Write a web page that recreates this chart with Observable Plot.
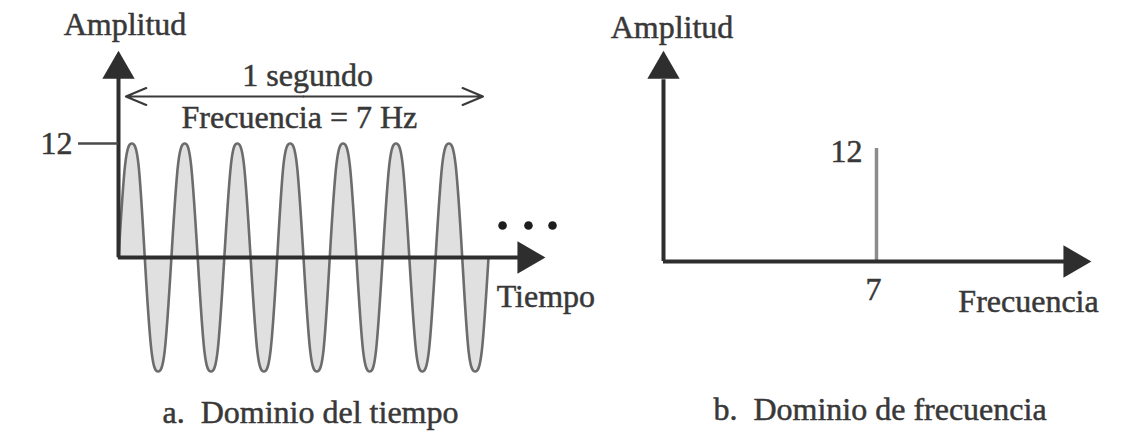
<!DOCTYPE html>
<html>
<head>
<meta charset="utf-8">
<script src="https://cdn.jsdelivr.net/npm/d3@7"></script>
<script src="https://cdn.jsdelivr.net/npm/@observablehq/plot@0.6"></script>
<style>
  html, body { margin: 0; padding: 0; background: #fff; }
  #wrap { position: relative; width: 1134px; height: 447px; overflow: hidden; background: #fff; }
  #left { position: absolute; left: 0; top: 0; width: 567px; height: 447px; }
  #right { position: absolute; left: 567px; top: 0; width: 567px; height: 447px; }
  svg { overflow: visible; }
</style>
</head>
<body>
<div id="wrap"><div id="left"></div><div id="right"></div></div>
<script>
// ---- Data ----
// Time-domain signal: points read along the 7 Hz wave over 1 second (s, amplitude)
const waveTime = [0, 0.018, 0.036, 0.054, 0.071, 0.089, 0.107, 0.125, 0.143, 0.161,
                  0.179, 0.196, 0.214, 0.232, 0.25, 0.268, 0.286, 0.304, 0.321, 0.339,
                  0.357, 0.375, 0.393, 0.411, 0.429, 0.446, 0.464, 0.482, 0.5, 0.518,
                  0.536, 0.554, 0.571, 0.589, 0.607, 0.625, 0.643, 0.661, 0.679, 0.696,
                  0.714, 0.732, 0.75, 0.768, 0.786, 0.804, 0.821, 0.839, 0.857, 0.875,
                  0.893, 0.911, 0.929, 0.946, 0.964, 0.982, 1];
const waveAmp  = [0, 9.8, 12, 9.8, 0, -9.8, -12, -9.8, 0, 9.8,
                  12, 9.8, 0, -9.8, -12, -9.8, 0, 9.8, 12, 9.8,
                  0, -9.8, -12, -9.8, 0, 9.8, 12, 9.8, 0, -9.8,
                  -12, -9.8, 0, 9.8, 12, 9.8, 0, -9.8, -12, -9.8,
                  0, 9.8, 12, 9.8, 0, -9.8, -12, -9.8, 0, 9.8,
                  12, 9.8, 0, -9.8, -12, -9.8, 0];
// Amplitude tick on the time-domain axis
const ampTickValue = [12];
const ampTickLabel = ["12"];
// Frequency-domain spectrum
const specFreq = [7];
const specAmp = [12];
const specFreqLabel = ["7"];
const specAmpLabel = ["12"];
// Texts
const yTitle = "Amplitud";
const timeTitle = "Tiempo";
const freqTitle = "Frecuencia";
const spanLabel = "1 segundo";
const freqNote = "Frecuencia = 7 Hz";
const captionA = "a.  Dominio del tiempo";
const captionB = "b.  Dominio de frecuencia";

// ---- Build tables ----
const wave = waveTime.map((t, i) => ({t, a: waveAmp[i]}));
const ampTicks = ampTickValue.map((a, i) => ({a, label: ampTickLabel[i]}));
const spectrum = specFreq.map((f, i) => ({f, a: specAmp[i], fl: specFreqLabel[i], al: specAmpLabel[i]}));

const FONT = "Liberation Serif, Times New Roman, serif";
const INK = "#2e2e2e";
const TXT = "#383838";
const FS = 32;
const T = {fontSize: FS, fill: TXT, stroke: TXT, strokeWidth: 0.5};

// ---- Left: time domain ----
const left = Plot.plot({
  width: 567, height: 447,
  marginLeft: 118, marginRight: 79, marginTop: 143, marginBottom: 76,
  x: {domain: [0, 1], axis: null},
  y: {domain: [-12, 12], axis: null},
  style: {fontFamily: FONT, background: "transparent", overflow: "visible"},
  marks: [
    Plot.areaY(wave, {x: "t", y: "a", curve: "natural", fill: "#e0e0e0"}),
    Plot.line(wave, {x: "t", y: "a", curve: "natural", stroke: "#6c6c6c", strokeWidth: 2.6}),
    // axes
    Plot.ruleX([0], {y1: 0, y2: 19.6, stroke: INK, strokeWidth: 4}),
    Plot.ruleY([0], {x1: 0, x2: 1.09, stroke: INK, strokeWidth: 4}),
    Plot.dot([{t: 0, a: 19.8, rot: 0}, {t: 1.1035, a: 0, rot: 90}],
      {x: "t", y: "a", rotate: "rot", symbol: "triangle", r: 12, fill: INK, stroke: "none"}),
    // amplitude tick "12"
    Plot.ruleY(ampTicks, {y: "a", x1: -0.108, x2: 0, stroke: "#4a4a4a", strokeWidth: 2.5}),
    Plot.text(ampTicks, {x: 0, y: "a", text: "label", dx: -46, textAnchor: "end", ...T}),
    // 1-second span double arrow
    Plot.arrow([{x1: 0.5, x2: 0.02}, {x1: 0.5, x2: 0.985}],
      {x1: "x1", x2: "x2", y1: 16.95, y2: 16.95, stroke: "#3a3a3a", strokeWidth: 2.2, headLength: 15, headAngle: 45}),
    Plot.text([spanLabel], {x: 0.511, y: 18.1, text: d => d, lineAnchor: "bottom", ...T}),
    Plot.text([freqNote], {x: 0.489, y: 13.68, text: d => d, lineAnchor: "bottom", ...T}),
    // titles
    Plot.text([yTitle], {x: 0.0176, y: 23.37, text: d => d, lineAnchor: "bottom", ...T}),
    Plot.text([timeTitle], {x: 1.022, y: -5.26, text: d => d, textAnchor: "start", lineAnchor: "bottom", ...T}),
    // continuation dots
    Plot.dot([1.038, 1.108, 1.173], {x: d => d, y: 3.37, r: 4.3, fill: "#1e1e1e", stroke: "none"}),
    // caption
    Plot.text([captionA], {x: 0.119, y: -17.47, text: d => d, textAnchor: "start", lineAnchor: "bottom", ...T})
  ]
});
document.getElementById("left").append(left);

// ---- Right: frequency domain ----
const right = Plot.plot({
  width: 567, height: 447,
  marginLeft: 96, marginRight: 45, marginTop: 148, marginBottom: 186,
  x: {domain: [0, 14], axis: null},
  y: {domain: [0, 12], axis: null},
  style: {fontFamily: FONT, background: "transparent", overflow: "visible"},
  marks: [
    Plot.ruleX(spectrum, {x: "f", y1: 0, y2: "a", stroke: "#8c8c8c", strokeWidth: 3.5}),
    Plot.ruleX([0], {y1: 0, y2: 19.3, stroke: INK, strokeWidth: 4}),
    Plot.ruleY([0], {x1: 0, x2: 13.2, stroke: INK, strokeWidth: 4}),
    Plot.dot([{f: 0, a: 20.4, rot: 0}, {f: 13.45, a: 0, rot: 90}],
      {x: "f", y: "a", rotate: "rot", symbol: "triangle", r: 12, fill: INK, stroke: "none"}),
    Plot.text(spectrum, {x: "f", y: "a", text: "al", dx: -14, dy: 3, textAnchor: "end", ...T}),
    Plot.text(spectrum, {x: "f", y: 0, text: "fl", dx: -3, dy: 16, lineAnchor: "top", ...T}),
    Plot.text([yTitle], {x: 0.28, y: 23.78, text: d => d, lineAnchor: "bottom", ...T}),
    Plot.text([freqTitle], {x: 9.69, y: -5.41, text: d => d, textAnchor: "start", lineAnchor: "bottom", ...T}),
    Plot.text([captionB], {x: 1.64, y: -16.88, text: d => d, textAnchor: "start", lineAnchor: "bottom", ...T})
  ]
});
document.getElementById("right").append(right);
</script>
</body>
</html>
